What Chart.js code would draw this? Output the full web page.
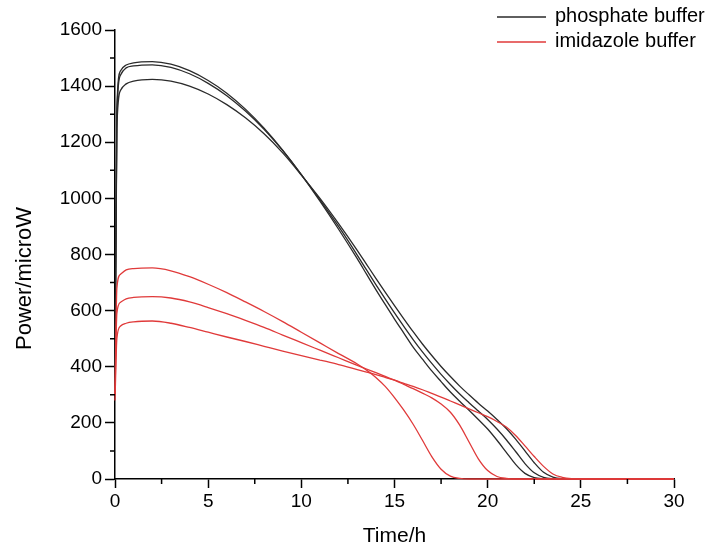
<!DOCTYPE html>
<html>
<head>
<meta charset="utf-8">
<title>Power vs time</title>
<script src="https://cdn.jsdelivr.net/npm/chart.js@4.4.1/dist/chart.umd.min.js"></script>
<style>
  html, body { margin: 0; padding: 0; background: #fff; }
</style>
</head>
<body>
<canvas id="powerChart" width="720" height="542"></canvas>
<script>
// time axis shared by every curve (hours)
const hours = [0, 0.1, 0.3, 0.6, 1, 2, 3, 4, 5, 6, 7, 8, 9, 10, 11, 12, 13, 13.5, 14, 14.5,
    15, 15.5, 16, 16.5, 17, 17.5, 18, 18.5, 19, 19.5, 20, 20.5, 21, 21.5, 22, 22.5, 23, 23.5,
    24, 24.5, 25, 26, 28, 30];

// phosphate buffer runs (microW)
const phosphate1 = [300, 1320, 1455, 1475, 1483, 1487, 1478, 1455, 1420, 1375, 1318, 1250, 1172, 1085, 990, 890, 785, 730, 675, 622,
    570, 520, 470, 427, 385, 347, 310, 277, 245, 212, 178, 138, 95, 52, 20, 5, 1, 0,
    0, 0, 0, 0, 0, 0];
const phosphate2 = [300, 1300, 1440, 1465, 1472, 1476, 1467, 1444, 1410, 1366, 1311, 1246, 1170, 1085, 995, 900, 798, 745, 693, 642,
    592, 544, 497, 453, 412, 373, 337, 303, 272, 242, 212, 178, 140, 98, 55, 22, 6, 1,
    0, 0, 0, 0, 0, 0];
const phosphate3 = [300, 1250, 1385, 1408, 1418, 1424, 1418, 1400, 1372, 1334, 1287, 1230, 1162, 1083, 1000, 910, 815, 765, 715, 666,
    618, 571, 525, 481, 440, 401, 365, 331, 300, 270, 242, 212, 180, 142, 100, 58, 24, 7,
    1, 0, 0, 0, 0, 0];

// imidazole buffer runs (microW)
const imidazole1 = [300, 680, 730, 745, 750, 752, 742, 721, 694, 664, 631, 597, 561, 523, 485, 447, 410, 388, 362, 330,
    290, 245, 195, 138, 80, 35, 10, 2, 0, 0, 0, 0, 0, 0, 0, 0, 0, 0,
    0, 0, 0, 0, 0, 0];
const imidazole2 = [300, 590, 630, 642, 647, 650, 645, 631, 611, 589, 565, 540, 513, 486, 459, 432, 405, 392, 379, 366,
    352, 337, 322, 306, 289, 267, 238, 192, 132, 72, 30, 9, 2, 0, 0, 0, 0, 0,
    0, 0, 0, 0, 0, 0];
const imidazole3 = [280, 500, 545, 555, 560, 563, 555, 540, 523, 506, 490, 473, 456, 440, 424, 408, 390, 381, 372, 362,
    352, 341, 330, 318, 305, 292, 278, 264, 250, 236, 222, 205, 185, 155, 118, 80, 45, 18,
    6, 1, 0, 0, 0, 0];

const seriesNames = ['phosphate buffer', 'imidazole buffer'];
const seriesColors = ['#2a2a2a', '#e03a3a'];

const xTicks = [0, 5, 10, 15, 20, 25, 30];
const yTicks = [0, 200, 400, 600, 800, 1000, 1200, 1400, 1600];

const fontFamily = "'Liberation Sans', Arial, sans-serif";

function toPoints(values) {
    return hours.map((h, i) => ({ x: h, y: values[i] }));
}

function makeSet(label, values, colorIndex) {
    return {
        label: label,
        data: toPoints(values),
        borderColor: seriesColors[colorIndex],
        borderWidth: 1.3,
        pointRadius: 0,
        fill: false,
        cubicInterpolationMode: 'monotone',
        clip: 4,
        order: colorIndex === 0 ? 1 : 0
    };
}

// short ticks halfway between the labelled ones
const minorTicks = {
    id: 'minorTicks',
    afterDraw(chart) {
        const ctx = chart.ctx;
        const xs = chart.scales.x;
        const ys = chart.scales.y;
        ctx.save();
        ctx.strokeStyle = '#000';
        ctx.lineWidth = 1.5;
        ctx.beginPath();
        for (let i = 0; i < xTicks.length - 1; i++) {
            const px = xs.getPixelForValue((xTicks[i] + xTicks[i + 1]) / 2);
            ctx.moveTo(px, ys.bottom);
            ctx.lineTo(px, ys.bottom + 5);
        }
        for (let i = 0; i < yTicks.length - 1; i++) {
            const py = ys.getPixelForValue((yTicks[i] + yTicks[i + 1]) / 2);
            ctx.moveTo(xs.left, py);
            ctx.lineTo(xs.left - 5, py);
        }
        ctx.stroke();
        ctx.restore();
    }
};

// y title sits a bit below the middle of the axis in the original
const yTitle = {
    id: 'yTitle',
    afterDraw(chart) {
        const ctx = chart.ctx;
        const area = chart.chartArea;
        ctx.save();
        ctx.translate(25, (area.top + area.bottom) / 2 + 24);
        ctx.rotate(-Math.PI / 2);
        ctx.font = '22px ' + fontFamily;
        ctx.fillStyle = '#000';
        ctx.textAlign = 'center';
        ctx.textBaseline = 'middle';
        ctx.fillText('Power/microW', 0, 0);
        ctx.restore();
    }
};

// legend in the top right corner, one line per buffer
const cornerLegend = {
    id: 'cornerLegend',
    afterDraw(chart) {
        const ctx = chart.ctx;
        ctx.save();
        ctx.font = '20px ' + fontFamily;
        ctx.textBaseline = 'alphabetic';
        seriesNames.forEach((name, i) => {
            const base = 22 + i * 25;
            ctx.strokeStyle = seriesColors[i];
            ctx.lineWidth = 1.3;
            ctx.beginPath();
            ctx.moveTo(497, base - 5);
            ctx.lineTo(546, base - 5);
            ctx.stroke();
            ctx.fillStyle = '#000';
            ctx.fillText(name, 555, base);
        });
        ctx.restore();
    }
};

document.addEventListener('DOMContentLoaded', function() {
    const ctx = document.getElementById('powerChart').getContext('2d');
    new Chart(ctx, {
        type: 'line',
        data: {
            datasets: [
                makeSet(seriesNames[0], phosphate1, 0),
                makeSet(seriesNames[0], phosphate2, 0),
                makeSet(seriesNames[0], phosphate3, 0),
                makeSet(seriesNames[1], imidazole1, 1),
                makeSet(seriesNames[1], imidazole2, 1),
                makeSet(seriesNames[1], imidazole3, 1)
            ]
        },
        options: {
            responsive: false,
            animation: false,
            devicePixelRatio: 1,
            layout: { padding: { top: 30, right: 46, left: 0, bottom: 0 } },
            plugins: {
                legend: { display: false },
                tooltip: { enabled: false }
            },
            scales: {
                x: {
                    type: 'linear',
                    min: 0,
                    max: 30,
                    afterBuildTicks: scale => { scale.ticks = xTicks.map(v => ({ value: v })); },
                    afterFit: scale => { scale.height = 63; },
                    ticks: {
                        color: '#000',
                        font: { family: fontFamily, size: 19 },
                        padding: 2,
                        maxRotation: 0,
                        callback: v => String(v)
                    },
                    grid: { drawOnChartArea: false, tickLength: 9, tickWidth: 1.5, tickColor: '#000' },
                    border: { color: '#000', width: 1.5 },
                    title: {
                        display: true,
                        text: 'Time/h',
                        color: '#000',
                        font: { family: fontFamily, size: 21, lineHeight: 0.5 },
                        padding: { top: 0, bottom: 1 }
                    }
                },
                y: {
                    type: 'linear',
                    min: 0,
                    max: 1600,
                    afterBuildTicks: scale => { scale.ticks = yTicks.map(v => ({ value: v })); },
                    afterFit: scale => { scale.width = 115; },
                    ticks: {
                        color: '#000',
                        font: { family: fontFamily, size: 19 },
                        padding: 3,
                        callback: v => String(v)
                    },
                    grid: { drawOnChartArea: false, tickLength: 10, tickWidth: 1.5, tickColor: '#000' },
                    border: { color: '#000', width: 1.5 }
                }
            }
        },
        plugins: [minorTicks, yTitle, cornerLegend]
    });
});
</script>
</body>
</html>
